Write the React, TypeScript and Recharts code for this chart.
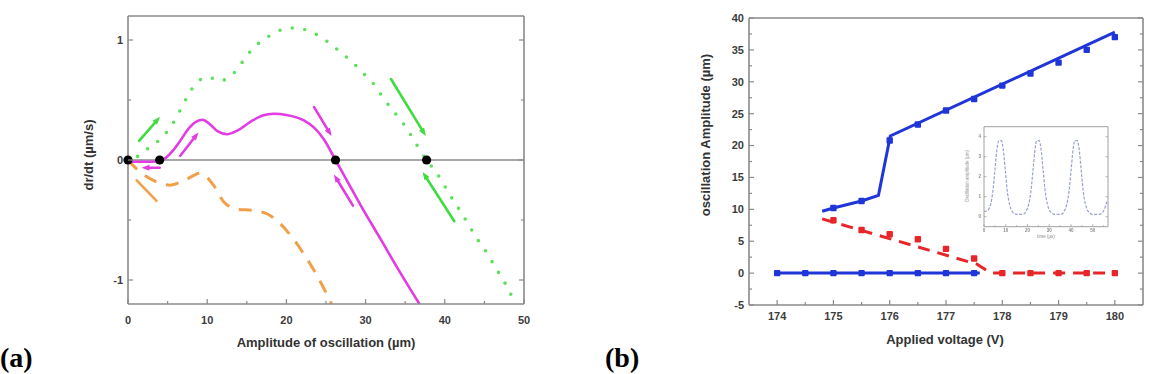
import React from 'react';
import {
  LineChart,
  ComposedChart,
  Line,
  Scatter,
  XAxis,
  YAxis,
  ReferenceLine,
  ReferenceDot,
} from 'recharts';

// ---- panel (a): dr/dt versus oscillation amplitude ----
const ampTicks = [0, 5, 10, 15, 20, 25, 30, 35, 40, 45, 50];
const rateTicks = [-1, -0.5, 0, 0.5, 1];

const greenRate = [
  { x: 1.2, y: 0.03 }, { x: 1.7, y: 0.06 }, { x: 3.2, y: 0.125 }, { x: 4.8, y: 0.225 },
  { x: 5.9, y: 0.33 }, { x: 6.7, y: 0.43 }, { x: 7.6, y: 0.54 }, { x: 8.6, y: 0.64 },
  { x: 10.1, y: 0.69 }, { x: 11.6, y: 0.66 }, { x: 13.3, y: 0.72 }, { x: 14.6, y: 0.83 },
  { x: 15.7, y: 0.925 }, { x: 17.3, y: 1.01 }, { x: 18.8, y: 1.07 }, { x: 20.4, y: 1.1 },
  { x: 22.1, y: 1.09 }, { x: 23.7, y: 1.05 }, { x: 25.3, y: 0.98 }, { x: 26.8, y: 0.9 },
  { x: 28.4, y: 0.81 }, { x: 29.9, y: 0.71 }, { x: 31.3, y: 0.61 }, { x: 32.3, y: 0.51 },
  { x: 33.6, y: 0.4 }, { x: 34.8, y: 0.3 }, { x: 35.7, y: 0.21 }, { x: 36.7, y: 0.1 },
  { x: 37.7, y: 0 }, { x: 39.1, y: -0.12 }, { x: 40.1, y: -0.23 }, { x: 41.1, y: -0.34 },
  { x: 42, y: -0.43 }, { x: 43.1, y: -0.55 }, { x: 44.1, y: -0.66 }, { x: 45, y: -0.74 },
  { x: 46, y: -0.85 }, { x: 47, y: -0.96 }, { x: 47.8, y: -1.05 }, { x: 48.7, y: -1.17 },
];

const magentaRate = [
  { x: 0, y: -0.012 }, { x: 2, y: -0.015 }, { x: 4, y: -0.01 }, { x: 4.8, y: 0.02 },
  { x: 5.7, y: 0.08 }, { x: 6.6, y: 0.16 }, { x: 7.4, y: 0.24 }, { x: 8.4, y: 0.31 },
  { x: 9.4, y: 0.335 }, { x: 10.3, y: 0.3 }, { x: 11.3, y: 0.24 }, { x: 12.5, y: 0.215 },
  { x: 13.8, y: 0.245 }, { x: 15.5, y: 0.32 }, { x: 17, y: 0.37 }, { x: 18.4, y: 0.385 },
  { x: 20, y: 0.375 }, { x: 22.2, y: 0.33 }, { x: 23.5, y: 0.27 }, { x: 24.7, y: 0.175 },
  { x: 26.2, y: 0 }, { x: 27.8, y: -0.19 }, { x: 29.4, y: -0.38 }, { x: 31.9, y: -0.66 },
  { x: 34.2, y: -0.92 }, { x: 36.8, y: -1.2 },
];

const orangeRate = [
  { x: 0, y: 0 }, { x: 1.1, y: -0.075 }, { x: 3.2, y: -0.17 }, { x: 5.3, y: -0.21 },
  { x: 7.4, y: -0.16 }, { x: 9.1, y: -0.11 }, { x: 10.8, y: -0.21 }, { x: 12.1, y: -0.35 },
  { x: 13.8, y: -0.41 }, { x: 15.7, y: -0.42 }, { x: 17.6, y: -0.45 }, { x: 19.2, y: -0.53 },
  { x: 20.9, y: -0.66 }, { x: 22.6, y: -0.825 }, { x: 24.1, y: -0.99 }, { x: 25.7, y: -1.2 },
];

// fixed points on dr/dt = 0
const fixedPoints = [0, 4, 26.2, 37.7];

// flow arrows: tail (x1, y1) -> head (x2, y2)
const greenArrows = [
  { x1: 1.4, y1: 0.16, x2: 4.05, y2: 0.36 },
  { x1: 33.2, y1: 0.675, x2: 37.6, y2: 0.2 },
  { x1: 41.2, y1: -0.51, x2: 37.2, y2: -0.1 },
];
const magentaArrows = [
  { x1: 4.0, y1: -0.065, x2: 1.7, y2: -0.065 },
  { x1: 6.6, y1: 0.036, x2: 8.9, y2: 0.23 },
  { x1: 23.5, y1: 0.44, x2: 25.7, y2: 0.2 },
  { x1: 28.4, y1: -0.38, x2: 26.0, y2: -0.12 },
];
const orangeArrows = [{ x1: 1.1, y1: -0.17, x2: 3.6, y2: -0.34 }];

// ---- panel (b): amplitude versus applied voltage ----
const voltTicks = [174, 174.5, 175, 175.5, 176, 176.5, 177, 177.5, 178, 178.5, 179, 179.5, 180];
const ampAxisTicks = [-5, -2.5, 0, 2.5, 5, 7.5, 10, 12.5, 15, 17.5, 20, 22.5, 25, 27.5, 30, 32.5, 35, 37.5, 40];

const upperFit = [
  { x: 174.8, y: 9.7 }, { x: 175, y: 10.2 }, { x: 175.5, y: 11.3 }, { x: 175.8, y: 12.2 },
  { x: 176.01, y: 21.5 }, { x: 180, y: 37.8 },
];
const upperMeasured = [
  { x: 175, y: 10.2 }, { x: 175.5, y: 11.3 }, { x: 176, y: 20.8 }, { x: 176.5, y: 23.3 },
  { x: 177, y: 25.5 }, { x: 177.5, y: 27.3 }, { x: 178, y: 29.4 }, { x: 178.5, y: 31.3 },
  { x: 179, y: 33.0 }, { x: 179.5, y: 35.0 }, { x: 180, y: 37.0 },
];
const lowerFit = [{ x: 174, y: 0 }, { x: 177.6, y: 0 }];
const lowerMeasured = [
  { x: 174, y: 0 }, { x: 174.5, y: 0 }, { x: 175, y: 0 }, { x: 175.5, y: 0 },
  { x: 176, y: 0 }, { x: 176.5, y: 0 }, { x: 177, y: 0 }, { x: 177.5, y: 0 },
];
const unstableFit = [
  { x: 174.8, y: 8.5 }, { x: 177.55, y: 1.4 }, { x: 177.8, y: 0 }, { x: 180, y: 0 },
];
const unstableMeasured = [
  { x: 175, y: 8.3 }, { x: 175.5, y: 6.75 }, { x: 176, y: 6.1 }, { x: 176.5, y: 5.3 },
  { x: 177, y: 3.8 }, { x: 177.5, y: 2.3 }, { x: 178, y: 0 }, { x: 178.5, y: 0 },
  { x: 179, y: 0 }, { x: 179.5, y: 0 }, { x: 180, y: 0 },
];

// inset: periodic oscillation trace
const insetTimeTicks = [0, 5, 10, 15, 20, 25, 30, 35, 40, 45, 50, 55];
const insetValueTicks = [0, 1, 2, 3, 4];
const insetTrace = [
  { x: 0, y: 0.25 }, { x: 2, y: 0.35 }, { x: 3, y: 0.6 }, { x: 4, y: 1.2 }, { x: 5, y: 2.3 },
  { x: 6, y: 3.4 }, { x: 6.8, y: 3.8 }, { x: 8, y: 3.8 }, { x: 8.8, y: 3.4 }, { x: 9.8, y: 2.3 },
  { x: 10.8, y: 1.2 }, { x: 11.8, y: 0.6 }, { x: 13, y: 0.25 }, { x: 15, y: 0.12 }, { x: 18, y: 0.12 },
  { x: 19.5, y: 0.3 }, { x: 20.5, y: 0.6 }, { x: 21.5, y: 1.2 }, { x: 22.5, y: 2.3 }, { x: 23.5, y: 3.4 },
  { x: 24.2, y: 3.8 }, { x: 25.4, y: 3.8 }, { x: 26.2, y: 3.4 }, { x: 27.2, y: 2.3 }, { x: 28.2, y: 1.2 },
  { x: 29.2, y: 0.6 }, { x: 30.5, y: 0.25 }, { x: 32.5, y: 0.12 }, { x: 35.5, y: 0.12 }, { x: 37, y: 0.3 },
  { x: 38, y: 0.6 }, { x: 39, y: 1.2 }, { x: 40, y: 2.3 }, { x: 41, y: 3.4 }, { x: 41.7, y: 3.8 },
  { x: 42.9, y: 3.8 }, { x: 43.7, y: 3.4 }, { x: 44.7, y: 2.3 }, { x: 45.7, y: 1.2 }, { x: 46.7, y: 0.6 },
  { x: 48, y: 0.25 }, { x: 50, y: 0.12 }, { x: 53, y: 0.12 }, { x: 55, y: 0.3 }, { x: 56.5, y: 0.75 },
];

const FRAME = '#8a8a8a';
const SANS = '"Liberation Sans", Arial, sans-serif';

type Side = 'top' | 'bottom' | 'left' | 'right';
interface TickOpts {
  side: Side;
  major: (v: number) => boolean;
  majorLen: number;
  minorLen: number;
  gap?: number;
  fontSize?: number;
  color?: string;
  stroke?: string;
  strokeWidth?: number;
}

// ticks point into the plot box; labels only on major ticks of bottom/left axes
const inwardTick = (o: TickOpts) => (props: any) => {
  const { x, y, payload } = props;
  const v = payload.value as number;
  const isMajor = o.major(v);
  const len = isMajor ? o.majorLen : o.minorLen;
  let x2 = x;
  let y2 = y;
  let tx = x;
  let ty = y;
  let anchor: 'middle' | 'end' = 'middle';
  if (o.side === 'bottom') {
    y2 = y - len;
    ty = y + (o.gap ?? 14);
  } else if (o.side === 'top') {
    y2 = y + len;
  } else if (o.side === 'left') {
    x2 = x + len;
    tx = x - (o.gap ?? 5);
    anchor = 'end';
  } else {
    x2 = x - len;
  }
  const showLabel = isMajor && (o.side === 'bottom' || o.side === 'left');
  return (
    <g>
      <line x1={x} y1={y} x2={x2} y2={y2} stroke={o.stroke ?? FRAME} strokeWidth={o.strokeWidth ?? 1.2} />
      {showLabel && (
        <text
          x={tx}
          y={ty}
          dy="0.35em"
          textAnchor={anchor}
          fontFamily={SANS}
          fontWeight="bold"
          fontSize={o.fontSize ?? 11}
          fill={o.color ?? '#3c3c3c'}
        >
          {String(v)}
        </text>
      )}
    </g>
  );
};

const arrowShape = (color: string, head: boolean) => (p: any) => {
  const { x1, y1, x2, y2 } = p;
  const ang = Math.atan2(y2 - y1, x2 - x1);
  const L = 8;
  const W = 3;
  const bx = x2 - L * Math.cos(ang);
  const by = y2 - L * Math.sin(ang);
  const nx = -Math.sin(ang) * W;
  const ny = Math.cos(ang) * W;
  return (
    <g>
      <line x1={x1} y1={y1} x2={head ? bx : x2} y2={head ? by : y2} stroke={color} strokeWidth={2.6} strokeLinecap="round" />
      {head && <polygon points={`${x2},${y2} ${bx + nx},${by + ny} ${bx - nx},${by - ny}`} fill={color} />}
    </g>
  );
};

const frameLine = { stroke: FRAME, strokeWidth: 1.6 };

// every axis is 1px thick so it still renders; margins absorb that pixel
const RatePanel = () => {
  const majX = (v: number) => v % 10 === 0;
  const majY = (v: number) => Number.isInteger(v);
  return (
    <LineChart width={560} height={374} margin={{ top: 15, right: 35, bottom: 69, left: 127 }}>
      <XAxis type="number" dataKey="x" domain={[0, 50]} ticks={ampTicks} height={1} tickSize={0} tickMargin={0}
        axisLine={frameLine} tickLine={false} allowDataOverflow interval={0}
        tick={inwardTick({ side: 'bottom', major: majX, majorLen: 5, minorLen: 3, gap: 16 })} />
      <XAxis xAxisId="top" orientation="top" type="number" domain={[0, 50]} ticks={ampTicks} height={1} tickSize={0}
        tickMargin={0} axisLine={frameLine} tickLine={false} allowDataOverflow interval={0}
        tick={inwardTick({ side: 'top', major: majX, majorLen: 5, minorLen: 3 })} />
      <YAxis type="number" domain={[-1.2, 1.2]} ticks={rateTicks} width={1} tickSize={0} tickMargin={0}
        axisLine={frameLine} tickLine={false} allowDataOverflow interval={0}
        tick={inwardTick({ side: 'left', major: majY, majorLen: 5, minorLen: 3, gap: 5 })} />
      <YAxis yAxisId="right" orientation="right" type="number" domain={[-1.2, 1.2]} ticks={rateTicks} width={1}
        tickSize={0} tickMargin={0} axisLine={frameLine} tickLine={false} allowDataOverflow interval={0}
        tick={inwardTick({ side: 'right', major: majY, majorLen: 5, minorLen: 3 })} />
      <ReferenceLine y={0} stroke={FRAME} strokeWidth={1.5} />
      <Line data={orangeRate} dataKey="y" type="monotone" stroke="#f0a048" strokeWidth={3}
        strokeDasharray="13 10" dot={false} isAnimationActive={false} />
      <Line data={greenRate} dataKey="y" type="monotone" stroke="#5ee05e" strokeWidth={3.6}
        strokeDasharray="0 12.6" strokeLinecap="round" dot={false} isAnimationActive={false} />
      <Line data={magentaRate} dataKey="y" type="monotone" stroke="#e23ce2" strokeWidth={2.6}
        dot={false} isAnimationActive={false} />
      {greenArrows.map((a, i) => (
        <ReferenceLine key={`g${i}`} segment={[{ x: a.x1, y: a.y1 }, { x: a.x2, y: a.y2 }]} ifOverflow="visible"
          shape={arrowShape('#3fdc3f', true)} />
      ))}
      {magentaArrows.map((a, i) => (
        <ReferenceLine key={`m${i}`} segment={[{ x: a.x1, y: a.y1 }, { x: a.x2, y: a.y2 }]} ifOverflow="visible"
          shape={arrowShape('#e23ce2', true)} />
      ))}
      {orangeArrows.map((a, i) => (
        <ReferenceLine key={`o${i}`} segment={[{ x: a.x1, y: a.y1 }, { x: a.x2, y: a.y2 }]} ifOverflow="visible"
          shape={arrowShape('#f0a048', false)} />
      ))}
      {fixedPoints.map((x) => (
        <ReferenceDot key={x} x={x} y={0} r={4.6} fill="#000" stroke="none" ifOverflow="visible" />
      ))}
    </LineChart>
  );
};

const square = (color: string) => (p: any) =>
  <rect x={p.cx - 3.2} y={p.cy - 3.2} width={6.4} height={6.4} rx={1} fill={color} />;

const VoltagePanel = () => {
  const majX = (v: number) => Number.isInteger(v);
  const majY = (v: number) => v % 5 === 0;
  return (
    <ComposedChart width={580} height={374} margin={{ top: 17, right: 16, bottom: 68, left: 168 }}>
      <XAxis type="number" dataKey="x" domain={[173.5, 180.5]} ticks={voltTicks} height={1} tickSize={0}
        tickMargin={0} axisLine={frameLine} tickLine={false} allowDataOverflow interval={0}
        tick={inwardTick({ side: 'bottom', major: majX, majorLen: 5, minorLen: 3, gap: 11 })} />
      <XAxis xAxisId="top" orientation="top" type="number" domain={[173.5, 180.5]} ticks={voltTicks} height={1}
        tickSize={0} tickMargin={0} axisLine={frameLine} tickLine={false} allowDataOverflow interval={0}
        tick={inwardTick({ side: 'top', major: majX, majorLen: 5, minorLen: 3 })} />
      <YAxis type="number" dataKey="y" domain={[-5, 40]} ticks={ampAxisTicks} width={1} tickSize={0}
        tickMargin={0} axisLine={frameLine} tickLine={false} allowDataOverflow interval={0}
        tick={inwardTick({ side: 'left', major: majY, majorLen: 5, minorLen: 3, gap: 5 })} />
      <YAxis yAxisId="right" orientation="right" type="number" domain={[-5, 40]} ticks={ampAxisTicks} width={1}
        tickSize={0} tickMargin={0} axisLine={frameLine} tickLine={false} allowDataOverflow interval={0}
        tick={inwardTick({ side: 'right', major: majY, majorLen: 5, minorLen: 3 })} />
      <Line data={unstableFit} dataKey="y" type="linear" stroke="#e8262a" strokeWidth={3}
        strokeDasharray="12 8" dot={false} isAnimationActive={false} />
      <Line data={lowerFit} dataKey="y" type="linear" stroke="#1f35d8" strokeWidth={3}
        dot={false} isAnimationActive={false} />
      <Line data={upperFit} dataKey="y" type="linear" stroke="#1f35d8" strokeWidth={3}
        dot={false} isAnimationActive={false} />
      <Scatter data={unstableMeasured} dataKey="y" shape={square('#e8262a')} isAnimationActive={false} />
      <Scatter data={lowerMeasured} dataKey="y" shape={square('#1f35d8')} isAnimationActive={false} />
      <Scatter data={upperMeasured} dataKey="y" shape={square('#1f35d8')} isAnimationActive={false} />
    </ComposedChart>
  );
};

const InsetPanel = () => {
  const insetFrame = { stroke: '#a0a0a0', strokeWidth: 1 };
  const common = { majorLen: 2.5, minorLen: 1.5, stroke: '#a0a0a0', strokeWidth: 0.8, fontSize: 4.5, color: '#8a8a8a' };
  const majX = (v: number) => v % 10 === 0;
  const all = () => true;
  return (
    <LineChart width={170} height={140} margin={{ top: 15.7, right: 1, bottom: 22.3, left: 43 }}>
      <XAxis type="number" dataKey="x" domain={[0, 57]} ticks={insetTimeTicks} height={1} tickSize={0}
        tickMargin={0} axisLine={insetFrame} tickLine={false} allowDataOverflow interval={0}
        tick={inwardTick({ side: 'bottom', major: majX, gap: 4, ...common })} />
      <XAxis xAxisId="top" orientation="top" type="number" domain={[0, 57]} ticks={insetTimeTicks} height={1}
        tickSize={0} tickMargin={0} axisLine={insetFrame} tickLine={false} allowDataOverflow interval={0}
        tick={inwardTick({ side: 'top', major: majX, ...common })} />
      <YAxis type="number" domain={[-0.5, 4.5]} ticks={insetValueTicks} width={1} tickSize={0} tickMargin={0}
        axisLine={insetFrame} tickLine={false} allowDataOverflow interval={0}
        tick={inwardTick({ side: 'left', major: all, gap: 3, ...common })} />
      <YAxis yAxisId="right" orientation="right" type="number" domain={[-0.5, 4.5]} ticks={insetValueTicks}
        width={1} tickSize={0} tickMargin={0} axisLine={insetFrame} tickLine={false} allowDataOverflow interval={0}
        tick={inwardTick({ side: 'right', major: all, ...common })} />
      <Line data={insetTrace} dataKey="y" type="monotone" stroke="#97a0d2" strokeWidth={1.2}
        strokeDasharray="3 1.5" dot={false} isAnimationActive={false} />
    </LineChart>
  );
};

const title: React.CSSProperties = {
  position: 'absolute',
  fontFamily: SANS,
  fontWeight: 'bold',
  fontSize: 13,
  color: '#333',
  whiteSpace: 'nowrap',
  lineHeight: 1,
};

const panelTag: React.CSSProperties = {
  position: 'absolute',
  fontFamily: '"Liberation Serif", "Times New Roman", serif',
  fontWeight: 'bold',
  fontSize: 28,
  color: '#000',
  whiteSpace: 'nowrap',
  lineHeight: 1,
};

export default function App() {
  return (
    <div style={{ position: 'absolute', left: 0, top: 0, width: 1160, height: 374, background: '#fff', overflow: 'hidden' }}>
      <div style={{ position: 'absolute', left: 0, top: 0 }}>
        <RatePanel />
      </div>
      <div style={{ position: 'absolute', left: 580, top: 0 }}>
        <VoltagePanel />
      </div>
      <div style={{ position: 'absolute', left: 940, top: 110, filter: 'blur(0.4px)' }}>
        <InsetPanel />
      </div>

      <div style={{ ...title, left: 326, top: 342, transform: 'translate(-50%, -50%)' }}>
        Amplitude of oscillation (µm)
      </div>
      <div style={{ ...title, left: 88, top: 155, transform: 'translate(-50%, -50%) rotate(-90deg)' }}>
        dr/dt (µm/s)
      </div>
      <div style={{ ...title, left: 945, top: 339, transform: 'translate(-50%, -50%)' }}>
        Applied voltage (V)
      </div>
      <div style={{ ...title, left: 705, top: 135, transform: 'translate(-50%, -50%) rotate(-90deg)' }}>
        oscillation Amplitude (µm)
      </div>
      <div style={{ ...title, fontSize: 4.5, fontWeight: 'normal', color: '#8a8a8a', left: 1046, top: 237,
        transform: 'translate(-50%, -50%)', filter: 'blur(0.4px)' }}>
        time (µs)
      </div>
      <div style={{ ...title, fontSize: 4.5, fontWeight: 'normal', color: '#8a8a8a', left: 968, top: 176,
        transform: 'translate(-50%, -50%) rotate(-90deg)', filter: 'blur(0.4px)' }}>
        Oscillation amplitude (µm)
      </div>

      <div style={{ ...panelTag, left: 0, top: 344 }}>(a)</div>
      <div style={{ ...panelTag, left: 605, top: 344 }}>(b)</div>
    </div>
  );
}
